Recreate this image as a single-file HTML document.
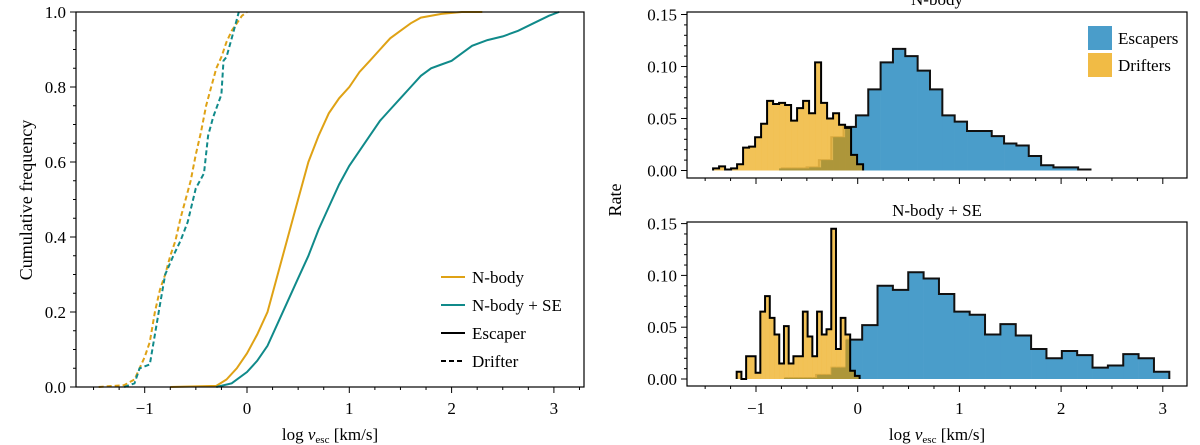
<!DOCTYPE html>
<html><head><meta charset="utf-8">
<style>
html,body{margin:0;padding:0;background:#fff;}
svg{display:block;font-family:"Liberation Serif","DejaVu Serif",serif;}
</style></head>
<body>
<svg id="fig" width="1200" height="445" viewBox="0 0 1200 445" xmlns="http://www.w3.org/2000/svg"></svg>
<script>
// ---- Left panel: CDF data ----
const nbEscX = [-0.75,-0.3,-0.2,-0.1,0,0.1,0.2,0.3,0.4,0.5,0.6,0.7,0.8,0.9,1.0,1.1,1.2,1.3,1.4,1.5,1.6,1.7,1.9,2.1,2.3];
const nbEscY = [0,0.003,0.02,0.05,0.09,0.14,0.2,0.3,0.4,0.5,0.6,0.67,0.73,0.77,0.8,0.84,0.87,0.9,0.93,0.95,0.97,0.985,0.995,1.0,1.0];
const seEscX = [-0.3,-0.15,0,0.1,0.2,0.3,0.4,0.5,0.6,0.7,0.8,0.9,1.0,1.1,1.2,1.3,1.4,1.5,1.6,1.7,1.8,1.9,2.0,2.1,2.2,2.35,2.5,2.65,2.8,2.95,3.05];
const seEscY = [0,0.01,0.04,0.07,0.11,0.17,0.23,0.29,0.35,0.42,0.48,0.54,0.59,0.63,0.67,0.71,0.74,0.77,0.8,0.83,0.85,0.86,0.87,0.89,0.91,0.925,0.935,0.95,0.97,0.99,1.0];
const nbDriX = [-1.45,-1.2,-1.1,-1.0,-0.95,-0.9,-0.85,-0.8,-0.75,-0.7,-0.65,-0.6,-0.55,-0.5,-0.45,-0.4,-0.35,-0.3,-0.25,-0.2,-0.15,-0.1,-0.05,0.0];
const nbDriY = [0,0.005,0.02,0.08,0.12,0.2,0.26,0.3,0.35,0.39,0.45,0.5,0.55,0.62,0.68,0.75,0.8,0.85,0.88,0.92,0.95,0.97,0.99,1.0];
const seDriX = [-1.2,-1.1,-1.05,-0.95,-0.9,-0.85,-0.8,-0.72,-0.65,-0.58,-0.5,-0.42,-0.38,-0.33,-0.25,-0.23,-0.2,-0.15,-0.1,-0.08];
const seDriY = [0,0.01,0.05,0.06,0.14,0.22,0.3,0.35,0.39,0.44,0.53,0.57,0.67,0.72,0.78,0.87,0.88,0.93,0.98,1.0];
const leftYTicks = [0,0.2,0.4,0.6,0.8,1.0];
const leftYTickLabels = ["0.0","0.2","0.4","0.6","0.8","1.0"];
const xTicks = [-1,0,1,2,3];
const xTickLabels = ["\u22121","0","1","2","3"];
// ---- Right panels: histogram data ----
const topEscStart = -0.746, topEscWidth = 0.1214;
const topEsc = [0.002,0.002,0.003,0.010,0.032,0.042,0.053,0.078,0.104,0.117,0.110,0.096,0.078,0.053,0.047,0.038,0.038,0.033,0.026,0.024,0.014,0.005,0.003,0.003,0.001];
const topDriStart = -1.422, topDriWidth = 0.059;
const topDri = [0.002,0.004,0.001,0.002,0.006,0.022,0.023,0.032,0.045,0.067,0.064,0.065,0.063,0.048,0.060,0.067,0.055,0.104,0.065,0.050,0.055,0.044,0.041,0.015,0.006];
const botEscStart = -0.711, botEscWidth = 0.151;
const botEsc = [0.001,0.001,0.004,0.011,0.038,0.052,0.090,0.086,0.103,0.097,0.082,0.065,0.062,0.043,0.053,0.042,0.029,0.020,0.027,0.023,0.011,0.013,0.024,0.020,0.007];
const botDriStart = -1.19, botDriWidth = 0.0465;
const botDri = [0.007,0,0.022,0.022,0.006,0.065,0.080,0.059,0.043,0.015,0.051,0.015,0.022,0.022,0.065,0.041,0.022,0.065,0.043,0.048,0.145,0.029,0.059,0.043,0.008,0.003];
const rateTicks = [0,0.05,0.10,0.15];
const rateTickLabels = ["0.00","0.05","0.10","0.15"];

const NS="http://www.w3.org/2000/svg";
const svg=document.getElementById('fig');
function mk(tag,attrs,parent){const e=document.createElementNS(NS,tag);for(const k in attrs)e.setAttribute(k,attrs[k]);(parent||svg).appendChild(e);return e;}

const ORANGE="#dfa215", TEAL="#108a8a", BLUE="#4a9dca", YEL="#f1bb45", OLIVE="#ad963a";

const lx = v => 247 + 102.3*v;
const ly = v => 387 - 375*v;
const rx = v => 857.7 + 101.7*v;
const tY = v => 170.5 - 1040*v;
const bY = v => 379 - 1036*v;

// ===== Left panel =====
const gL = mk('g',{});


function line(xs,ys,color,dash,name){
  let d='';
  for(let i=0;i<xs.length;i++){d+=(i?'L':'M')+lx(xs[i]).toFixed(1)+','+ly(ys[i]).toFixed(1);}
  const p=mk('path',{d:d,fill:'none',stroke:color,'stroke-width':2,'stroke-dasharray':dash||'none'},gL);
  
  
}
line(nbDriX,nbDriY,ORANGE,'5,3','nbody-drifter-line');
line(seDriX,seDriY,TEAL,'5,3','nbody-se-drifter-line');
line(nbEscX,nbEscY,ORANGE,null,'nbody-escaper-line');
line(seEscX,seEscY,TEAL,null,'nbody-se-escaper-line');
mk('rect',{x:76,y:12,width:508,height:375,fill:'none',stroke:'#000','stroke-width':1.2},gL);
for(let v=0;v<=1.0001;v+=0.05){
  const major=Math.abs(v*5-Math.round(v*5))<1e-6;
  mk('line',{x1:76,x2:major?70:73,y1:ly(v),y2:ly(v),stroke:'#000','stroke-width':1},gL);
}
leftYTicks.forEach((v,i)=>{const t=mk('text',{x:66,y:ly(v)+6,'text-anchor':'end','font-size':17},gL);t.textContent=leftYTickLabels[i];
  });
for(let v=-1.5;v<=3.25;v+=0.25){
  const major=Math.abs(v-Math.round(v))<1e-6;
  mk('line',{x1:lx(v),x2:lx(v),y1:387,y2:major?393:390,stroke:'#000','stroke-width':1},gL);
}
xTicks.forEach((v,i)=>{const t=mk('text',{x:lx(v),y:414,'text-anchor':'middle','font-size':17},gL);t.textContent=xTickLabels[i];
  });
const legItems=[[ORANGE,null,'N-body'],[TEAL,null,'N-body + SE'],['#000',null,'Escaper'],['#000','5,3','Drifter']];
legItems.forEach((it,i)=>{
  const y=277+i*28;
  mk('line',{x1:441,x2:465,y1:y,y2:y,stroke:it[0],'stroke-width':2,'stroke-dasharray':it[1]||'none'},gL);
  const t=mk('text',{x:472,y:y+6,'font-size':17},gL);t.textContent=it[2];
  
});
let t;
t=mk('text',{x:330,y:440,'text-anchor':'middle','font-size':17});t.innerHTML='log <tspan font-style="italic">v</tspan><tspan font-size="11" dy="3">esc</tspan><tspan dy="-3"> [km/s]</tspan>';

t=mk('text',{x:0,y:0,'text-anchor':'middle','font-size':18,transform:'translate(32,200) rotate(-90)'});t.textContent='Cumulative frequency';


// ===== Right panels =====
function hist(g,start,w,vals,yf,fill,opacity){
  vals.forEach((v,i)=>{
    const x0=rx(start+i*w),x1=rx(start+(i+1)*w);
    const r=mk('rect',{x:x0,y:yf(v),width:x1-x0+0.3,height:yf(0)-yf(v),fill:fill,'fill-opacity':opacity},g);
    
    
  });
}
function outline(g,start,w,vals,yf,color){
  let d='M'+rx(start)+','+yf(0);
  vals.forEach((v,i)=>{d+='L'+rx(start+i*w)+','+yf(v)+'L'+rx(start+(i+1)*w)+','+yf(v);});
  d+='L'+rx(start+vals.length*w)+','+yf(0);
  mk('path',{d:d,fill:'none',stroke:color,'stroke-width':2,'stroke-linejoin':'miter'},g);
}
function overlap(g,dStart,dW,dVals,eStart,eW,eVals,yf){
  dVals.forEach((v,i)=>{
    const c=dStart+(i+0.5)*dW; const k=Math.floor((c-eStart)/eW);
    const ev=(k>=0&&k<eVals.length)?eVals[k]:0; const h=Math.min(v,ev);
    if(h<=0)return;
    const x0=rx(dStart+i*dW),x1=rx(dStart+(i+1)*dW);
    mk('rect',{x:x0,y:yf(h),width:x1-x0+0.3,height:yf(0)-yf(h),fill:OLIVE},g);
  });
}
function panel(name,top,bottom,yf,eS,eW,eV,dS,dW,dV,title,titleY,showX){
  const g=mk('g',{});
  
  
  hist(g,eS,eW,eV,yf,BLUE,1);
  outline(g,eS,eW,eV,yf,'#111');
  hist(g,dS,dW,dV,yf,YEL,0.9);
  overlap(g,dS,dW,dV,eS,eW,eV,yf);
  outline(g,dS,dW,dV,yf,'#000');
  mk('rect',{x:687,y:top,width:500,height:bottom-top,fill:'none',stroke:'#000','stroke-width':1.2},g);
  for(let v=0;v<=0.1501;v+=0.01){
    const major=Math.abs(v*20-Math.round(v*20))<1e-6;
    mk('line',{x1:687,x2:major?681:684,y1:yf(v),y2:yf(v),stroke:'#000','stroke-width':1},g);
  }
  rateTicks.forEach((v,i)=>{const tt=mk('text',{x:677,y:yf(v)+6,'text-anchor':'end','font-size':17},g);tt.textContent=rateTickLabels[i];
    });
  for(let v=-1.5;v<=3.0001;v+=0.25){
    const major=Math.abs(v-Math.round(v))<1e-6;
    mk('line',{x1:rx(v),x2:rx(v),y1:bottom,y2:bottom+(major?6:3),stroke:'#000','stroke-width':1},g);
  }
  if(showX){
    xTicks.forEach((v,i)=>{const tt=mk('text',{x:rx(v),y:414,'text-anchor':'middle','font-size':17},g);tt.textContent=xTickLabels[i];
      });
  }
  const tt=mk('text',{x:937,y:titleY,'text-anchor':'middle','font-size':17},g);tt.textContent=title;
  
  return g;
}
const gT=panel('nbody-histogram',12,178,tY,topEscStart,topEscWidth,topEsc,topDriStart,topDriWidth,topDri,'N-body',5,false);
panel('nbody-se-histogram',222,386,bY,botEscStart,botEscWidth,botEsc,botDriStart,botDriWidth,botDri,'N-body + SE',216,true);
[[BLUE,'Escapers',26],[YEL,'Drifters',53]].forEach(it=>{
  mk('rect',{x:1088,y:it[2],width:24,height:24,fill:it[0]},gT);
  const tt=mk('text',{x:1118,y:it[2]+18,'font-size':17},gT);tt.textContent=it[1];
  
});
t=mk('text',{x:937,y:440,'text-anchor':'middle','font-size':17});t.innerHTML='log <tspan font-style="italic">v</tspan><tspan font-size="11" dy="3">esc</tspan><tspan dy="-3"> [km/s]</tspan>';

t=mk('text',{x:0,y:0,'text-anchor':'middle','font-size':18,transform:'translate(621,200) rotate(-90)'});t.textContent='Rate';

</script>
</body></html>
